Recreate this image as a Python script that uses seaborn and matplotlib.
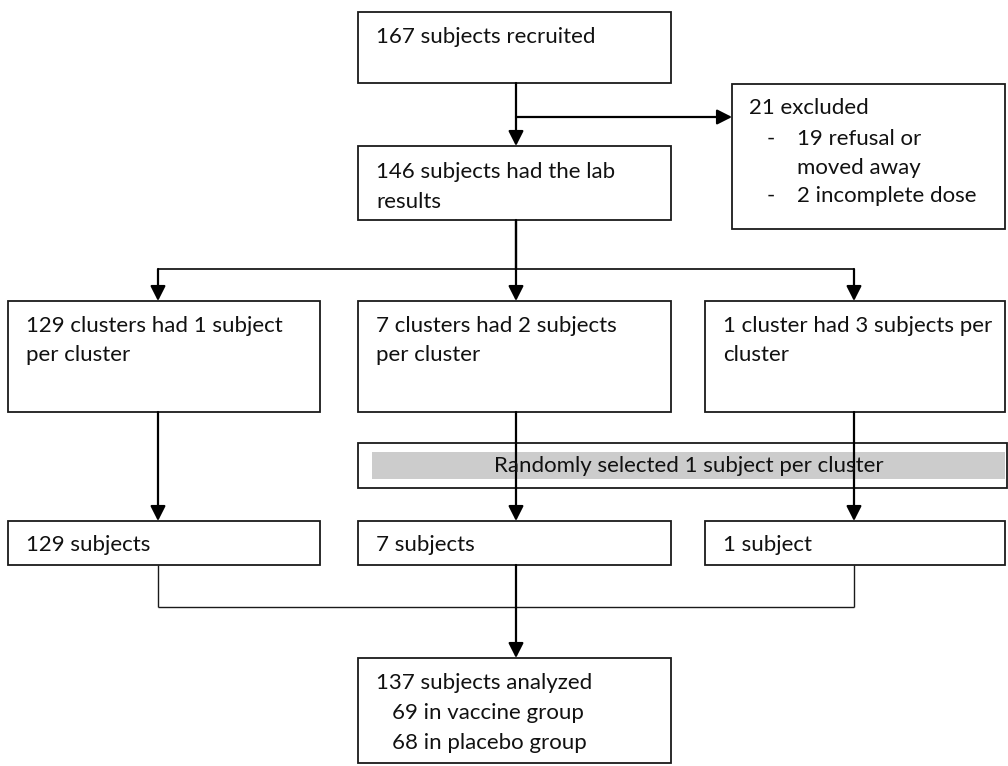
import matplotlib
matplotlib.use("Agg")
import matplotlib.pyplot as plt
from matplotlib.patches import Rectangle
import seaborn as sns

# ---- content ----
recruited_lines = ["167 subjects recruited"]
lab_lines = ["146 subjects had the lab", "results"]
excluded_title = "21 excluded"
excluded_items = [["-", "19 refusal or"], ["", "moved away"], ["-", "2 incomplete dose"]]
cluster_lines = [
    ["129 clusters had 1 subject", "per cluster"],
    ["7 clusters had 2 subjects", "per cluster"],
    ["1 cluster had 3 subjects per", "cluster"],
]
random_label = "Randomly selected 1 subject per cluster"
subject_labels = ["129 subjects", "7 subjects", "1 subject"]
analyzed_lines = ["137 subjects analyzed", "69 in vaccine group", "68 in placebo group"]

sns.set_theme(style="white")
plt.rcParams['font.family'] = ['Lato', 'DejaVu Sans']

FS = 16
EDGE = "#1a1a1a"
fig = plt.figure(figsize=(10.08, 7.66), dpi=100)
ax = fig.add_axes([0, 0, 1, 1])
ax.set_xlim(0, 1008)
ax.set_ylim(766, 0)
ax.axis("off")


def box(x0, y0, x1, y1, lw=1.3, fc="white", ec=EDGE, z=2):
    ax.add_patch(Rectangle((x0, y0), x1 - x0, y1 - y0, fc=fc, ec=ec, lw=lw, zorder=z))


def text(x, y, s, ha="left"):
    ax.text(x, y, s, fontsize=FS, ha=ha, va="center", color="#111111", zorder=6)


def line(xs, ys, lw=1.3):
    ax.plot(xs, ys, color=EDGE, lw=lw, solid_capstyle="butt", zorder=4)


def arrow(x0, y0, x1, y1, lw=1.6):
    ax.annotate("", xy=(x1, y1), xytext=(x0, y0),
                arrowprops=dict(arrowstyle="-|>,head_length=0.75,head_width=0.38",
                                color="black", lw=lw, shrinkA=0, shrinkB=0),
                zorder=5)


# column centres
cols_x = [158, 516, 854]
cols_box = [(8, 320), (358, 671), (705, 1005)]

# top box
box(358, 12, 671, 83)
for i, s in enumerate(recruited_lines):
    text(376, 37 + 30 * i, s)

# lab results box
box(358, 146, 671, 220)
for i, s in enumerate(lab_lines):
    text(376, 172 + 30 * i, s)

# excluded box
box(732, 84, 1005, 229)
text(749, 108, excluded_title)
for i, (d, s) in enumerate(excluded_items):
    y = 139 + 28.5 * i
    if d:
        text(767, y, d)
    text(797, y, s)

arrow(516, 83, 516, 146)
arrow(516, 117, 732, 117)

# branching to clusters
line([516, 516], [220, 269], lw=1.6)
line([cols_x[0], cols_x[2]], [269, 269], lw=1.3)
arrow(516, 220, 516, 301)
arrow(cols_x[0], 269, cols_x[0], 301)
arrow(cols_x[2], 269, cols_x[2], 301)

for (x0, x1), lines in zip(cols_box, cluster_lines):
    box(x0, 301, x1, 412)
    for i, s in enumerate(lines):
        text(x0 + 18, 326 + 29 * i, s)

# random selection box
box(358, 443, 1007, 488)
ax.add_patch(Rectangle((372, 452), 1005 - 372, 479 - 452, fc="#cccccc", ec="none", zorder=3))
text((372 + 1005) / 2, 466, random_label, ha="center")

for cx in cols_x:
    arrow(cx, 412, cx, 521)

for (x0, x1), s in zip(cols_box, subject_labels):
    box(x0, 521, x1, 565)
    text(x0 + 18, 545, s)

# merge
line([cols_x[0], cols_x[0]], [565, 607], lw=1.0)
line([cols_x[2], cols_x[2]], [565, 607], lw=1.0)
line([cols_x[0], cols_x[2]], [607, 607], lw=1.0)
arrow(516, 565, 516, 658)

box(358, 658, 671, 763)
text(376, 683, analyzed_lines[0])
text(392, 713, analyzed_lines[1])
text(392, 743, analyzed_lines[2])

fig.savefig("out.png", dpi=100, facecolor="white")
